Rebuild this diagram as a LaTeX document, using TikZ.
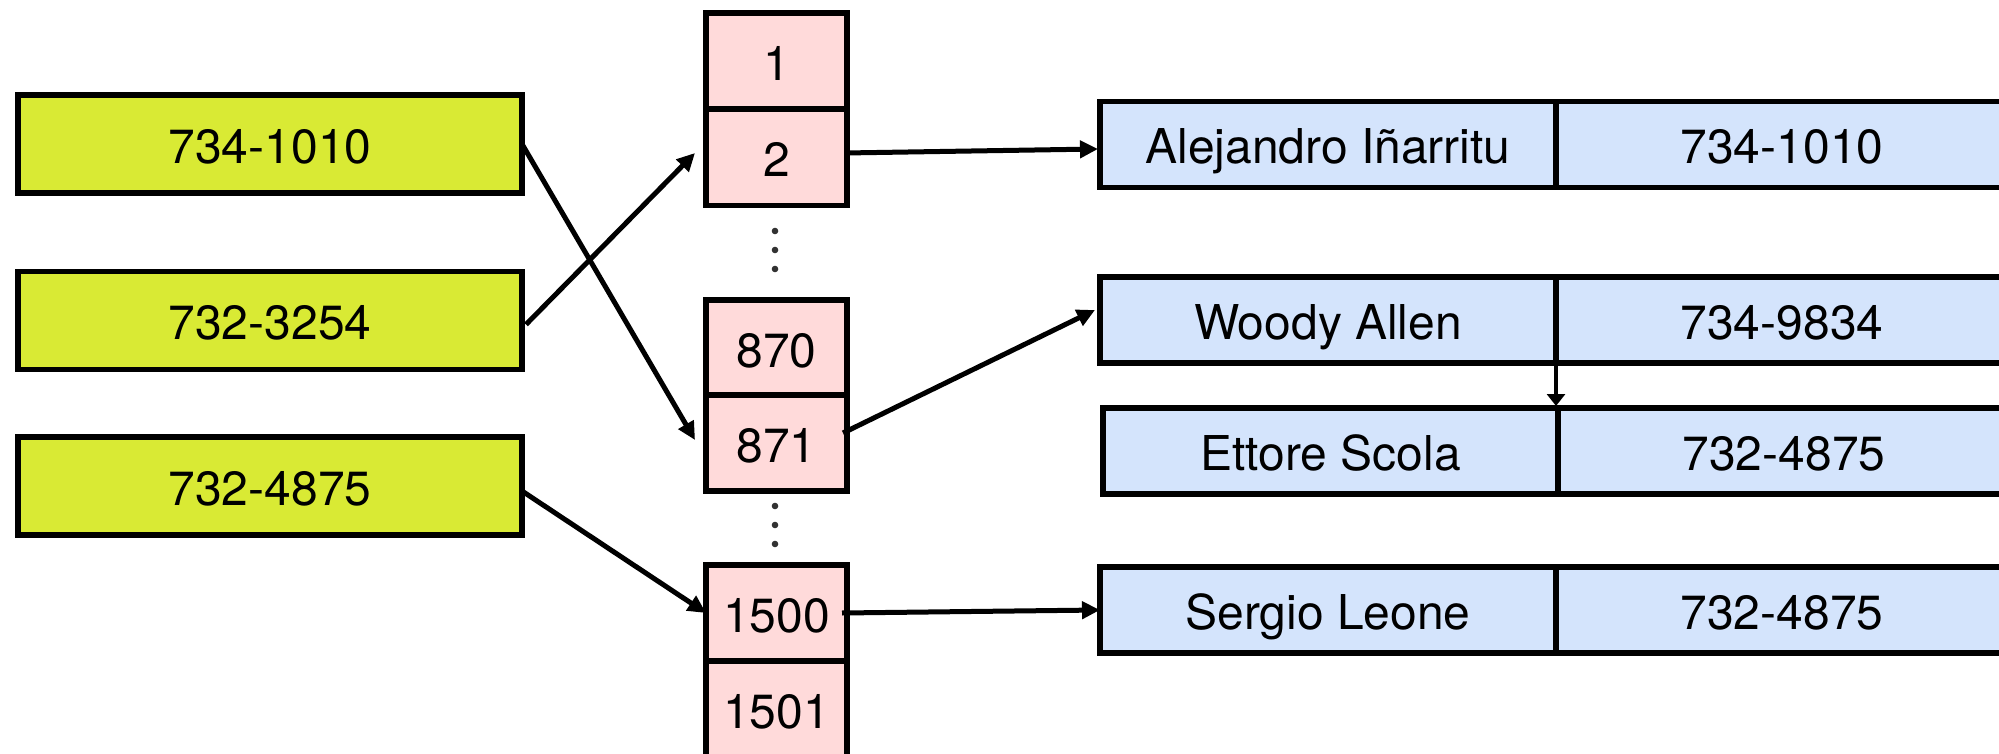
\documentclass[tikz,border=0pt]{standalone}
\usepackage{fontspec}
\setmainfont{TeX Gyre Heros}
\usetikzlibrary{arrows.meta,calc}
\definecolor{gfill}{RGB}{217,234,52}
\definecolor{pfill}{RGB}{255,218,218}
\definecolor{bfill}{RGB}{212,228,252}
\definecolor{dotgray}{RGB}{50,50,50}
\begin{document}
\begin{tikzpicture}[x=1pt,y=-1pt,
  every node/.style={inner sep=0pt,outer sep=0pt,text height=38.5pt,text depth=0pt,font=\fontsize{48}{58}\selectfont},
  greenbox/.style={draw,line width=5.5pt,fill=gfill,minimum width=504pt,minimum height=98pt},
  pinkbox/.style={draw,line width=5.5pt,fill=pfill,minimum width=141pt,minimum height=96pt},
  bluecell/.style={draw,line width=5.5pt,fill=bfill,minimum width=456pt,minimum height=86pt},
  arr/.style={line width=5pt,-{Triangle[length=18pt,width=17pt]}},
  thinarr/.style={line width=4.5pt,-{Triangle[length=12pt,width=18pt]}},
  dotmark/.style={fill=dotgray}
]
\useasboundingbox (0,0) rectangle (1999,754);
\clip (0,0) rectangle (1999,754);
\fill[white] (0,0) rectangle (1999,754);

% green keys
\node[greenbox] (g1) at (270,144) {734-1010};
\node[greenbox] (g2) at (270,320.5) {732-3254};
\node[greenbox] (g3) at (270,486) {732-4875};

% pink buckets
\node[pinkbox] (p1) at (776.5,61) {1};
\node[pinkbox] (p2) at (776.5,157.5) {2};
\node[pinkbox] (p870) at (776.5,348) {870};
\node[pinkbox] (p871) at (776.5,443) {871};
\node[pinkbox] (p1500) at (776.5,613) {1500};
\node[pinkbox] (p1501) at (776.5,709) {1501};

% dots
\fill[dotmark] (775,231) circle (3.3pt);
\fill[dotmark] (775,250) circle (3.3pt);
\fill[dotmark] (775,269) circle (3.3pt);
\fill[dotmark] (775,506) circle (3.3pt);
\fill[dotmark] (775,525) circle (3.3pt);
\fill[dotmark] (775,544) circle (3.3pt);

% blue entries
\node[bluecell] (b1a) at (1328,144.5) {Alejandro Iñarritu};
\node[bluecell,minimum width=452pt] (b1b) at (1782,144.5) {734-1010};
\node[bluecell] (b2a) at (1328,320) {Woody Allen};
\node[bluecell,minimum width=452pt] (b2b) at (1782,320) {734-9834};
\node[bluecell,minimum width=455pt] (b3a) at (1330.5,451) {Ettore Scola};
\node[bluecell,minimum width=452pt] (b3b) at (1784,451) {732-4875};
\node[bluecell] (b4a) at (1328,610) {Sergio Leone};
\node[bluecell,minimum width=452pt] (b4b) at (1782,610) {732-4875};

% connectors
\draw[arr] (g1.east) -- ([xshift=-11pt,yshift=3pt]p871.west);
\draw[arr] ([xshift=4pt,yshift=-4pt]g2.east) -- ([xshift=-11pt,yshift=4.5pt]p2.west);
\draw[arr] ([yshift=-5pt]g3.east) -- (p1500.west);
\draw[arr] ([xshift=-2pt,yshift=4.5pt]p2.east) -- ([xshift=-2pt,yshift=-4.5pt]b1a.west);
\draw[arr] ([xshift=-4pt,yshift=10pt]p871.east) -- ([xshift=-5pt,yshift=10pt]b2a.west);
\draw[arr] ([xshift=-5pt]p1500.east) -- (b4a.west);
\draw[thinarr] (b2a.south east) -- ([yshift=2pt]b2a.south east |- b3a.north);
\end{tikzpicture}
\end{document}
